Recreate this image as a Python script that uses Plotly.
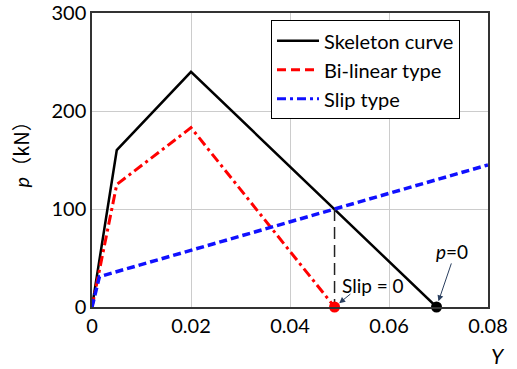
import plotly.graph_objects as go

# Data
skeleton_x = [0, 0.005, 0.02, 0.0696]
skeleton_y = [0, 160, 240, 0]
bilinear_x = [0, 0.005, 0.02, 0.049]
bilinear_y = [0, 125, 183, 0]
slip_x = [0, 0.0015, 0.08]
slip_y = [0, 31, 145]
slip0_x = [0.049, 0.049]
slip0_y = [100, 0]
x_ticks = [0, 0.02, 0.04, 0.06, 0.08]
x_tick_labels = ["0", "0.02", "0.04", "0.06", "0.08"]
y_ticks = [0, 100, 200, 300]

FONT = "Lato, 'Noto Sans CJK SC', sans-serif"

fig = go.Figure()

# plotted curves (legend drawn by separate entries)
fig.add_trace(go.Scatter(x=skeleton_x, y=skeleton_y, mode="lines",
                         line=dict(color="black", width=2.5), showlegend=False))
fig.add_trace(go.Scatter(x=bilinear_x, y=bilinear_y, mode="lines",
                         line=dict(color="#ff0000", width=3, dash="10px,4px,3px,4px"),
                         showlegend=False))
fig.add_trace(go.Scatter(x=slip_x, y=slip_y, mode="lines",
                         line=dict(color="#1010ff", width=3.5, dash="8px,4px"),
                         showlegend=False))
fig.add_trace(go.Scatter(x=slip0_x, y=slip0_y, mode="lines",
                         line=dict(color="#222222", width=1.5, dash="12px,6px"),
                         showlegend=False))
fig.add_trace(go.Scatter(x=[bilinear_x[-1]], y=[0], mode="markers",
                         marker=dict(color="#ff0000", size=11), cliponaxis=False,
                         showlegend=False))
fig.add_trace(go.Scatter(x=[skeleton_x[-1]], y=[0], mode="markers",
                         marker=dict(color="black", size=11), cliponaxis=False,
                         showlegend=False))

# legend entries
fig.add_trace(go.Scatter(x=[None], y=[None], mode="lines", name="Skeleton curve",
                         line=dict(color="black", width=2.5)))
fig.add_trace(go.Scatter(x=[None], y=[None], mode="lines", name="Bi-linear type",
                         line=dict(color="#ff0000", width=3, dash="9px,5px")))
fig.add_trace(go.Scatter(x=[None], y=[None], mode="lines", name="Slip type",
                         line=dict(color="#1010ff", width=3, dash="9px,4px,3px,4px")))

# "Slip = 0" annotation
fig.add_annotation(x=0.049, y=0, ax=0.0525, ay=14.5, axref="x", ayref="y",
                   text="", showarrow=True, arrowhead=2, arrowsize=1.2, arrowwidth=1,
                   standoff=6)
fig.add_annotation(x=0.0501, y=22, xanchor="left", yanchor="middle",
                   text="Slip = 0", showarrow=False,
                   font=dict(family=FONT, size=19, color="black"))
# "p=0" annotation
fig.add_annotation(x=0.0696, y=0, ax=0.0727, ay=46, axref="x", ayref="y",
                   text="", showarrow=True, arrowhead=2, arrowsize=1.2, arrowwidth=1,
                   standoff=6)
fig.add_annotation(x=0.0727, y=57, xanchor="center", yanchor="middle",
                   text="<i>p</i>=0", showarrow=False,
                   font=dict(family=FONT, size=19, color="black"))

fig.update_layout(
    width=517, height=369,
    margin=dict(l=92, r=29, t=13, b=62),
    paper_bgcolor="white", plot_bgcolor="white",
    font=dict(family=FONT, size=20, color="black"),
    legend=dict(x=0.452, y=0.975, xanchor="left", yanchor="top",
                bordercolor="black", borderwidth=1, bgcolor="white",
                font=dict(family=FONT, size=20), tracegroupgap=0,
                itemwidth=42),
    showlegend=True,
)
fig.update_xaxes(range=[0, 0.08], tickvals=x_ticks, ticktext=x_tick_labels,
                 showgrid=True, gridcolor="#cccccc", gridwidth=1,
                 showline=True, linecolor="#333333", linewidth=1.5, mirror=True,
                 zeroline=False, ticks="", tickfont=dict(family=FONT, size=20),
                 automargin=False, ticklabeloverflow="allow")
fig.update_yaxes(range=[0, 300], tickvals=y_ticks,
                 showgrid=True, gridcolor="#cccccc", gridwidth=1,
                 showline=True, linecolor="#333333", linewidth=1.5, mirror=True,
                 zeroline=False, ticks="", tickfont=dict(family=FONT, size=20),
                 automargin=False, ticklabeloverflow="allow")
fig.add_annotation(x=-0.18, y=0.535, xref="paper", yref="paper",
                   text="<i>p</i><span style=\"font-family:'Noto Sans CJK SC'\">（kN）</span>",
                   textangle=-90, showarrow=False,
                   font=dict(family=FONT, size=20), xanchor="center", yanchor="middle")
fig.add_annotation(x=1.025, y=-0.165, xref="paper", yref="paper", text="<i>Y</i>",
                   showarrow=False, font=dict(family=FONT, size=21),
                   xanchor="center", yanchor="middle")

fig.write_html("out.html")
